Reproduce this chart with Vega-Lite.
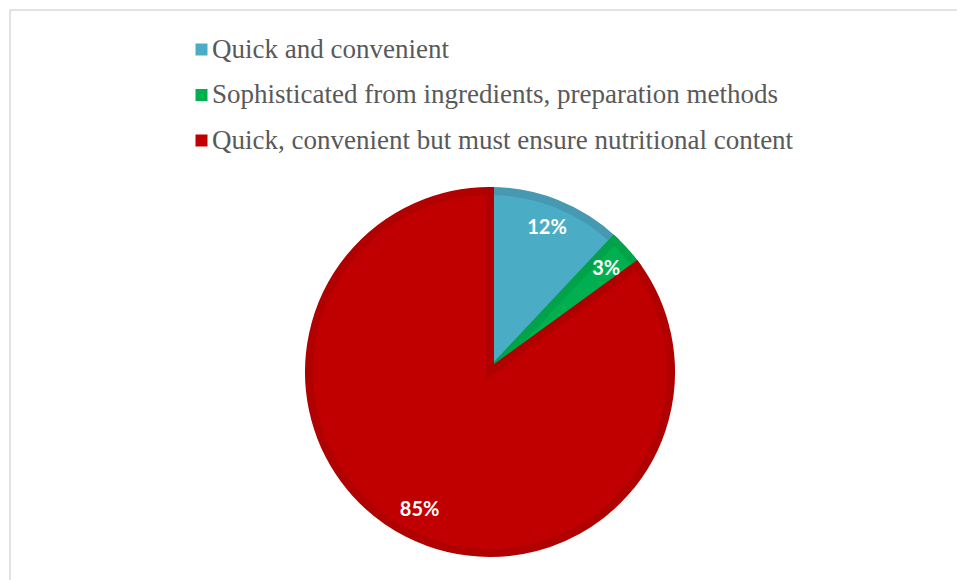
{
  "$schema": "https://vega.github.io/schema/vega-lite/v6.json",
  "autosize": {"type": "fit", "contains": "padding"},
  "width": 957,
  "height": 580,
  "padding": {"left": 10, "top": 10, "right": -13, "bottom": -154},
  "background": "white",
  "view": {"stroke": "#D9D9D9", "strokeWidth": 1.5},
  "config": {
    "font": "Liberation Serif",
    "legend": {"labelFont": "Liberation Serif"}
  },
  "data": {
    "values": [
      {"category": "Quick and convenient", "share": 0.12, "order": 1},
      {"category": "Sophisticated from ingredients, preparation methods", "share": 0.03, "order": 2},
      {"category": "Quick, convenient but must ensure nutritional content", "share": 0.85, "order": 3}
    ]
  },
  "encoding": {
    "theta": {"field": "share", "type": "quantitative", "stack": true},
    "order": {"field": "order", "type": "quantitative"}
  },
  "layer": [
    {
      "mark": {"type": "arc", "outerRadius": 181, "strokeWidth": 8, "strokeJoin": "miter"},
      "encoding": {
        "color": {
          "field": "category",
          "type": "nominal",
          "scale": {
            "domain": ["Quick and convenient", "Sophisticated from ingredients, preparation methods", "Quick, convenient but must ensure nutritional content"],
            "range": ["#4BACC6", "#00B050", "#C00000"]
          },
          "legend": {
            "orient": "none",
            "legendX": 178,
            "legendY": 26,
            "title": null,
            "padding": 0,
            "symbolType": "square",
            "symbolSize": 144,
            "symbolStrokeWidth": 0,
            "symbolOpacity": 1,
            "labelFont": "Liberation Serif",
            "labelFontSize": 27,
            "labelColor": "#595959",
            "labelOffset": -3,
            "labelLimit": 900,
            "rowPadding": 17.5
          }
        },
        "stroke": {
          "field": "category",
          "type": "nominal",
          "scale": {
            "domain": ["Quick and convenient", "Sophisticated from ingredients, preparation methods", "Quick, convenient but must ensure nutritional content"],
            "range": ["#4699B1", "#00A349", "#B00000"]
          },
          "legend": null
        }
      }
    },
    {
      "mark": {"type": "text", "radius": 155, "font": "Lato", "fontWeight": "bold", "fontSize": 20, "fill": "white"},
      "encoding": {
        "text": {"field": "share", "type": "quantitative", "format": ".0%"}
      }
    }
  ]
}
